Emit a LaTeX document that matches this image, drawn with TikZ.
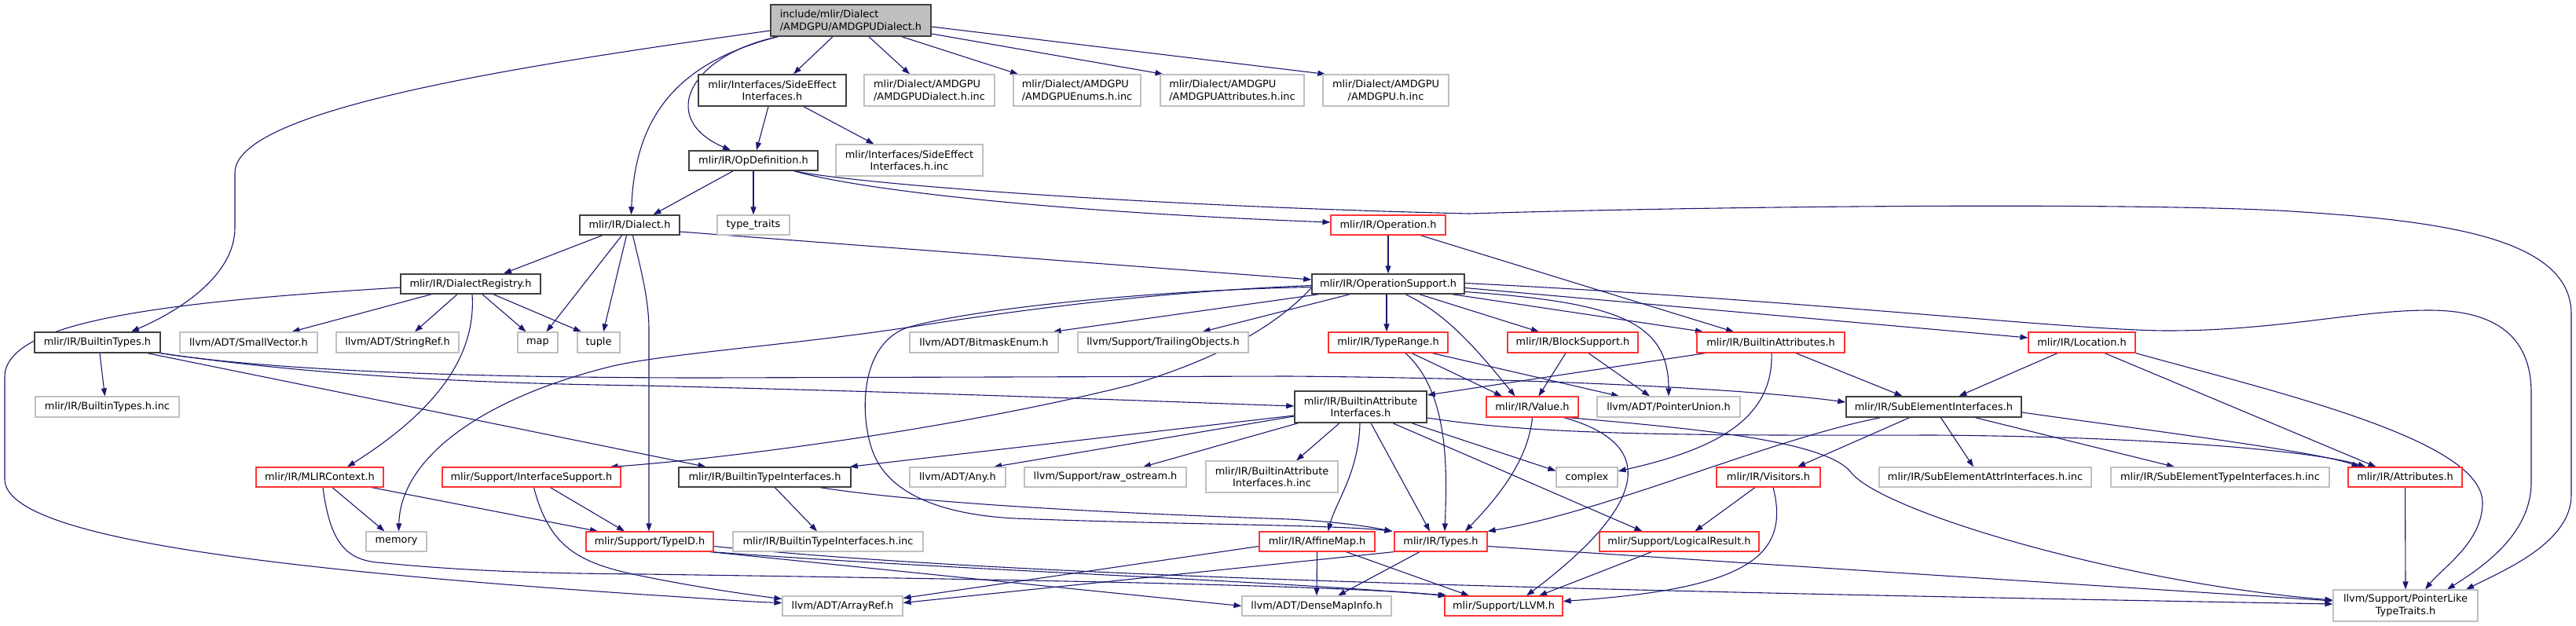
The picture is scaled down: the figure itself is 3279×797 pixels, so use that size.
\documentclass[tikz,border=0pt]{standalone}
\usepackage{fontspec}
\usetikzlibrary{arrows.meta}
\newfontfamily\dvfont{DejaVu Sans}
\newcommand\dfont{\dvfont\fontsize{12.9}{15.5}\selectfont}
\definecolor{edgec}{HTML}{191970}
\definecolor{blkb}{HTML}{404040}
\definecolor{gryb}{HTML}{BFBFBF}
\definecolor{redb}{HTML}{FF3333}
\pgfdeclarelayer{bg}
\pgfsetlayers{bg,main}
\tikzset{
 nb/.style={rectangle, inner sep=0pt, fill=white, font=\dfont, align=center, line width=1.2pt},
 blk/.style={nb, draw=blkb, line width=1.5pt},
 gry/.style={nb, draw=gryb},
 rd/.style={nb, draw=redb},
 rootn/.style={nb, draw=blkb, fill=gryb, line width=1.5pt, align=left},
 ed/.style={draw=edgec, line width=1.1pt, -{Triangle[length=10pt,width=7pt]}},
}
\begin{document}
\begin{tikzpicture}[x=1pt,y=-1pt]
\useasboundingbox (0,0) rectangle (3279,797);
% row 0
\node[rootn, minimum width=204pt, minimum height=40pt] (root) at (1083,26) {include/mlir/Dialect\\/AMDGPU/AMDGPUDialect.h};
% row 1
\node[blk, minimum width=188pt, minimum height=40pt] (sei) at (983,115) {mlir/Interfaces/SideEffect\\Interfaces.h};
\node[gry, align=left, minimum width=166pt, minimum height=40pt] (dinc) at (1183,115) {mlir/Dialect/AMDGPU\\/AMDGPUDialect.h.inc};
\node[gry, align=left, minimum width=162pt, minimum height=40pt] (enuminc) at (1371,115) {mlir/Dialect/AMDGPU\\/AMDGPUEnums.h.inc};
\node[gry, align=left, minimum width=183pt, minimum height=40pt] (attrinc) at (1568.5,115) {mlir/Dialect/AMDGPU\\/AMDGPUAttributes.h.inc};
\node[gry, minimum width=160pt, minimum height=40pt] (amdinc) at (1764,115) {mlir/Dialect/AMDGPU\\/AMDGPU.h.inc};
% row 2
\node[gry, minimum width=187pt, minimum height=40pt] (seiinc) at (1157.5,204) {mlir/Interfaces/SideEffect\\Interfaces.h.inc};
\node[blk, minimum width=164pt, minimum height=25pt] (opdef) at (959,204.5) {mlir/IR/OpDefinition.h};
% row 3
\node[blk, minimum width=127pt, minimum height=25pt] (dialect) at (801.5,286.5) {mlir/IR/Dialect.h};
\node[gry, minimum width=92pt, minimum height=25pt] (tytraits) at (959,286.5) {type\_traits};
\node[rd, minimum width=146pt, minimum height=25pt] (operation) at (1767,286.5) {mlir/IR/Operation.h};
% row 4
\node[blk, minimum width=178pt, minimum height=25pt] (dreg) at (599,361.5) {mlir/IR/DialectRegistry.h};
\node[blk, minimum width=194pt, minimum height=25pt] (opsup) at (1767,361.5) {mlir/IR/OperationSupport.h};
% row 5
\node[blk, minimum width=160pt, minimum height=26pt] (btypes) at (124,436) {mlir/IR/BuiltinTypes.h};
\node[gry, minimum width=175pt, minimum height=26pt] (smallvec) at (316.5,436) {llvm/ADT/SmallVector.h};
\node[gry, minimum width=156pt, minimum height=26pt] (stringref) at (506,436) {llvm/ADT/StringRef.h};
\node[gry, minimum width=51pt, minimum height=26pt] (map) at (684.5,436) {map};
\node[gry, minimum width=54pt, minimum height=26pt] (tuple) at (762,436) {tuple};
\node[gry, minimum width=189pt, minimum height=26pt] (bitmask) at (1252.5,436) {llvm/ADT/BitmaskEnum.h};
\node[gry, minimum width=217pt, minimum height=26pt] (trailing) at (1480.5,436) {llvm/Support/TrailingObjects.h};
\node[rd, minimum width=152pt, minimum height=26pt] (typerange) at (1767,436) {mlir/IR/TypeRange.h};
\node[rd, minimum width=166pt, minimum height=26pt] (blocksup) at (2002,436) {mlir/IR/BlockSupport.h};
\node[rd, minimum width=188pt, minimum height=26pt] (battrs) at (2254,436) {mlir/IR/BuiltinAttributes.h};
\node[rd, minimum width=136pt, minimum height=26pt] (location) at (2650,436) {mlir/IR/Location.h};
% row 6
\node[gry, minimum width=183pt, minimum height=26pt] (btypesinc) at (136.5,518) {mlir/IR/BuiltinTypes.h.inc};
\node[blk, minimum width=168pt, minimum height=40pt] (bai) at (1732,518) {mlir/IR/BuiltinAttribute\\Interfaces.h};
\node[rd, minimum width=117pt, minimum height=26pt] (value) at (1950.5,518) {mlir/IR/Value.h};
\node[gry, minimum width=182pt, minimum height=26pt] (punion) at (2124,518) {llvm/ADT/PointerUnion.h};
\node[blk, minimum width=223pt, minimum height=26pt] (subel) at (2461.5,518) {mlir/IR/SubElementInterfaces.h};
% row 7
\node[rd, minimum width=162pt, minimum height=25pt] (mlirctx) at (407,607.5) {mlir/IR/MLIRContext.h};
\node[rd, minimum width=227pt, minimum height=25pt] (ifsup) at (676.5,607.5) {mlir/Support/InterfaceSupport.h};
\node[blk, minimum width=219pt, minimum height=25pt] (bti) at (973.5,607.5) {mlir/IR/BuiltinTypeInterfaces.h};
\node[gry, minimum width=122pt, minimum height=25pt] (any) at (1219,607.5) {llvm/ADT/Any.h};
\node[gry, minimum width=206pt, minimum height=25pt] (rawos) at (1407,607.5) {llvm/Support/raw\_ostream.h};
\node[gry, minimum width=168pt, minimum height=40pt] (baiinc) at (1619,607) {mlir/IR/BuiltinAttribute\\Interfaces.h.inc};
\node[gry, minimum width=78pt, minimum height=25pt] (complex) at (2020,607.5) {complex};
\node[rd, minimum width=132pt, minimum height=25pt] (visitors) at (2251,607.5) {mlir/IR/Visitors.h};
\node[gry, minimum width=270pt, minimum height=25pt] (seainc) at (2527,607.5) {mlir/IR/SubElementAttrInterfaces.h.inc};
\node[gry, minimum width=278pt, minimum height=25pt] (setinc) at (2826,607.5) {mlir/IR/SubElementTypeInterfaces.h.inc};
\node[rd, minimum width=145pt, minimum height=25pt] (attrs) at (3061.5,607.5) {mlir/IR/Attributes.h};
% row 8
\node[gry, minimum width=77pt, minimum height=25pt] (memory) at (504.5,689.5) {memory};
\node[rd, minimum width=162pt, minimum height=25pt] (typeid) at (827,689.5) {mlir/Support/TypeID.h};
\node[gry, minimum width=242pt, minimum height=25pt] (btiinc) at (1054,689.5) {mlir/IR/BuiltinTypeInterfaces.h.inc};
\node[rd, minimum width=147pt, minimum height=25pt] (affine) at (1676.5,689.5) {mlir/IR/AffineMap.h};
\node[rd, minimum width=118pt, minimum height=25pt] (types) at (1834,689.5) {mlir/IR/Types.h};
\node[rd, minimum width=203pt, minimum height=25pt] (logres) at (2137.5,689.5) {mlir/Support/LogicalResult.h};
% row 9
\node[gry, minimum width=153pt, minimum height=25pt] (arrayref) at (1072.5,771.5) {llvm/ADT/ArrayRef.h};
\node[gry, minimum width=190pt, minimum height=25pt] (densemap) at (1676,771.5) {llvm/ADT/DenseMapInfo.h};
\node[rd, minimum width=150pt, minimum height=25pt] (llvm) at (1914,771.5) {mlir/Support/LLVM.h};
\node[gry, minimum width=184pt, minimum height=40pt] (pltt) at (3062,771) {llvm/Support/PointerLike\\TypeTraits.h};

\begin{pgfonlayer}{bg}
% root
\draw[ed] ([xshift=-23pt]root.south) -- ([xshift=27pt]sei.north);
\draw[ed] ([xshift=23pt]root.south) -- ([xshift=-25pt]dinc.north);
\draw[ed] ([xshift=65pt]root.south) -- ([xshift=-75pt]enuminc.north);
\draw[ed] ([yshift=-17pt]root.east) -- ([xshift=-88pt]attrinc.north);
\draw[ed] ([yshift=-8pt]root.east) -- ([xshift=4pt]amdinc.north west);
\draw[ed] ([xshift=-93pt]root.south) .. controls (880,70) and (835,150) .. ([xshift=-29pt]opdef.north);
\draw[ed] ([xshift=-93pt]root.south) .. controls (860,80) and (808,150) .. ([xshift=2pt]dialect.north);
\draw[ed] ([yshift=-13pt]root.west) .. controls (650,85) and (299,140) .. (299,220) -- (299,290) .. controls (299,350) and (230,395) .. ([xshift=43pt]btypes.north);
% sei
\draw[ed] ([xshift=-5pt]sei.south) -- ([xshift=4pt]opdef.north);
\draw[ed] ([xshift=40pt]sei.south) -- ([xshift=-45pt]seiinc.north);
% opdef
\draw[ed] ([xshift=-26pt]opdef.south) -- ([xshift=30pt]dialect.north);
\draw[ed] (opdef.south) -- (tytraits.north);
\draw[ed] ([xshift=52pt]opdef.south) .. controls (1080,238) and (1300,268) .. ([yshift=3.5pt]operation.west);
\draw[ed] ([xshift=52pt]opdef.south) .. controls (1090,234) and (1450,262) .. (1870,272) .. controls (2200,262) and (2700,258) .. (2900,268) .. controls (3100,280) and (3273,300) .. (3273,400) -- (3273,630) .. controls (3273,690) and (3190,725) .. ([xshift=77pt]pltt.north);
% dialect
\draw[ed] ([xshift=-35pt]dialect.south) -- ([xshift=42pt]dreg.north);
\draw[ed] ([xshift=-10pt]dialect.south) -- ([xshift=11pt]map.north);
\draw[ed] ([xshift=-4pt]dialect.south) -- ([xshift=6pt]tuple.north);
\draw[ed] ([xshift=4pt]dialect.south) .. controls (815,340) and (826,380) .. (826,420) -- ([xshift=-1pt]typeid.north);
\draw[ed] ([yshift=-8.5pt]dialect.east) -- ([yshift=5.5pt]opsup.west);
% dreg
\draw[ed] ([xshift=-50pt]dreg.south) -- ([xshift=55pt]smallvec.north);
\draw[ed] ([xshift=-17pt]dreg.south) -- ([xshift=22pt]stringref.north);
\draw[ed] ([xshift=2pt]dreg.south) .. controls (606,450) and (560,520) .. ([xshift=35pt]mlirctx.north);
\draw[ed] ([xshift=15pt]dreg.south) -- ([xshift=-15pt]map.north);
\draw[ed] ([xshift=29pt]dreg.south) -- ([xshift=-22pt]tuple.north);
\draw[ed] ([yshift=-4.5pt]dreg.west) .. controls (200,385) and (6,410) .. (6,480) -- (6,610) .. controls (6,680) and (300,722) .. (820,757) .. controls (900,762) and (950,766) .. ([yshift=4pt]arrayref.west);
% mlirctx
\draw[ed] ([xshift=16pt]mlirctx.south) -- ([xshift=-15pt]memory.north);
\draw[ed] ([xshift=66pt]mlirctx.south) -- ([xshift=-66pt]typeid.north);
\draw[ed] ([xshift=4pt]mlirctx.south) .. controls (420,690) and (440,712) .. (480,716) .. controls (600,728) and (700,730) .. (820,731) .. controls (1300,738) and (1700,745) .. ([xshift=4pt]llvm.north west);
% ifsup
\draw[ed] ([xshift=24pt]ifsup.south) -- ([xshift=-32pt]typeid.north);
\draw[ed] ([xshift=3pt]ifsup.south) .. controls (700,700) and (740,718) .. (820,734) .. controls (900,750) and (960,758) .. ([yshift=9pt]arrayref.west);
% typeid
\draw[ed] ([xshift=-5pt]typeid.south east) -- (densemap.west);
\draw[ed] ([xshift=-3pt]typeid.south east) .. controls (1200,725) and (1600,738) .. ([xshift=2pt]llvm.north west);
\draw[ed] ([yshift=-6pt]typeid.east) .. controls (1300,735) and (2000,752) .. ([yshift=2pt]pltt.west);
% btypes
\draw[ed] ([xshift=3pt]btypes.south) -- ([xshift=-3pt]btypesinc.north);
\draw[ed] ([xshift=64pt]btypes.south) -- ([xshift=-75pt]bti.north);
\draw[ed] (btypes.south east) .. controls (350,472) and (600,481) .. (900,481) -- (1640,479) .. controls (1900,481) and (2200,492) .. ([yshift=6pt]subel.west);
\draw[ed] (btypes.south east) .. controls (400,478) and (600,488) .. (820,491) .. controls (1200,500) and (1500,512) .. ([yshift=1pt]bai.west);
% bti
\draw[ed] ([xshift=13pt]bti.south) -- ([xshift=-14pt]btiinc.north);
\draw[ed] ([xshift=71pt]bti.south) .. controls (1200,645) and (1500,656) .. (1640,661) .. controls (1700,664) and (1740,670) .. ([xshift=-2pt]types.north west);
% opsup
\draw[ed] ([xshift=-2pt]opsup.south) -- ([xshift=-2pt]typerange.north);
\draw[ed] ([xshift=22pt]opsup.south) .. controls (1842,400) and (1880,445) .. ([xshift=-22pt]value.north);
\draw[ed] ([xshift=40pt]opsup.south) -- ([xshift=-43pt]blocksup.north);
\draw[ed] ([xshift=82pt]opsup.south) -- ([xshift=-86pt]battrs.north);
\draw[ed] ([yshift=-10pt]opsup.east) .. controls (2060,385) and (2124,410) .. (punion.north);
\draw[ed] ([yshift=-5pt]opsup.east) -- ([yshift=6pt]location.west);
\draw[ed] ([yshift=1pt]opsup.east) .. controls (2300,382) and (2640,421) .. (2760,421) .. controls (2900,421) and (3000,395) .. (3092,395) .. controls (3190,395) and (3222,440) .. (3222,500) -- (3222,614) .. controls (3222,680) and (3160,722) .. ([xshift=53pt]pltt.north);
\draw[ed] ([xshift=-49pt]opsup.south) -- ([xshift=50pt]trailing.north);
\draw[ed] ([xshift=9pt]opsup.south west) -- ([xshift=88pt]bitmask.north);
\draw[ed] ([yshift=-5pt]opsup.west) .. controls (1620,420) and (1540,460) .. (1440,490) .. controls (1200,550) and (900,586) .. ([xshift=100pt]ifsup.north);
\draw[ed] ([yshift=-2pt]opsup.west) .. controls (1450,372) and (1250,402) .. (1155,417) .. controls (1000,440) and (850,450) .. (780,466) .. controls (620,505) and (510,580) .. ([xshift=3pt]memory.north);
\draw[ed] ([yshift=-4pt]opsup.west) .. controls (1450,370) and (1230,395) .. (1155,417) .. controls (1090,440) and (1095,540) .. (1113,580) .. controls (1135,630) and (1200,655) .. (1291,660) .. controls (1500,668) and (1700,668) .. ([xshift=-2pt]types.north west);
% operation
\draw[ed] (operation.south) -- (opsup.north);
\draw[ed] ([xshift=41pt]operation.south) -- ([xshift=-47pt]battrs.north);
% typerange
\draw[ed] ([xshift=22pt]typerange.south) .. controls (1845,500) and (1842,600) .. ([xshift=5pt]types.north);
\draw[ed] ([xshift=30pt]typerange.south) -- ([xshift=-38.5pt]value.north);
\draw[ed] ([xshift=56pt]typerange.south) -- ([xshift=-63pt]punion.north);
% blocksup
\draw[ed] ([xshift=-9pt]blocksup.south) -- ([xshift=8pt]value.north);
\draw[ed] ([xshift=20pt]blocksup.south) -- ([xshift=-24pt]punion.north);
% battrs
\draw[ed] ([xshift=-83pt]battrs.south) -- ([yshift=15pt]bai.east);
\draw[ed] ([xshift=1pt]battrs.south) .. controls (2258,540) and (2170,575) .. ([yshift=7.5pt]complex.east);
\draw[ed] ([xshift=32pt]battrs.south) -- ([xshift=-40pt]subel.north);
% location
\draw[ed] ([xshift=-31pt]location.south) -- ([xshift=32pt]subel.north);
\draw[ed] ([xshift=29pt]location.south) -- ([xshift=-37pt]attrs.north);
\draw[ed] (location.south east) .. controls (2900,500) and (3160,560) .. (3160,640) .. controls (3160,690) and (3110,722) .. ([xshift=25pt]pltt.north);
% subel
\draw[ed] ([xshift=-68pt]subel.south) .. controls (2250,560) and (2050,650) .. (types.north east);
\draw[ed] ([xshift=-31pt]subel.south) -- ([xshift=37pt]visitors.north);
\draw[ed] ([xshift=9pt]subel.south) -- ([xshift=-15pt]seainc.north);
\draw[ed] ([xshift=53pt]subel.south) -- ([xshift=-58pt]setinc.north);
\draw[ed] ([yshift=-7pt]subel.east) .. controls (2750,550) and (2950,575) .. ([xshift=-58pt]attrs.north);
% bai
\draw[ed] ([yshift=-11pt]bai.west) -- ([xshift=-2pt]bti.north east);
\draw[ed] ([yshift=-12pt]bai.west) -- ([xshift=46pt]any.north);
\draw[ed] ([xshift=5pt]bai.south west) -- ([xshift=48pt]rawos.north);
\draw[ed] ([xshift=-27pt]bai.south) -- ([xshift=31pt]baiinc.north);
\draw[ed] ([xshift=-1pt]bai.south) .. controls (1730,600) and (1700,640) .. ([xshift=14pt]affine.north);
\draw[ed] ([xshift=13pt]bai.south) -- ([xshift=-14pt]types.north);
\draw[ed] ([xshift=41pt]bai.south) -- ([xshift=-47pt]logres.north);
\draw[ed] ([xshift=65pt]bai.south) -- ([yshift=8pt]complex.west);
\draw[ed] ([yshift=-14pt]bai.east) .. controls (1950,552) and (2100,555) .. (2460,554) .. controls (2750,556) and (2950,575) .. ([xshift=-50pt]attrs.north);
% value
\draw[ed] (value.south) .. controls (1945,590) and (1900,640) .. ([xshift=31pt]types.north);
\draw[ed] ([xshift=40pt]value.south) .. controls (2110,565) and (2100,640) .. ([xshift=29pt]llvm.north);
\draw[ed] ([xshift=45pt]value.south) .. controls (2150,545) and (2320,560) .. (2355,600) .. controls (2390,650) and (2700,742) .. ([yshift=7pt]pltt.west);
% types
\draw[ed] ([xshift=-27pt]types.south) -- ([xshift=27pt]densemap.north);
\draw[ed] (types.south west) -- ([yshift=4pt]arrayref.east);
\draw[ed] ([yshift=-6pt]types.east) -- ([yshift=6pt]pltt.west);
% affine
\draw[ed] (affine.south) -- (densemap.north);
\draw[ed] ([xshift=37pt]affine.south) -- ([xshift=-44pt]llvm.north);
\draw[ed] ([yshift=-6pt]affine.west) -- ([yshift=10pt]arrayref.east);
% logres
\draw[ed] ([xshift=-35pt]logres.south) -- ([xshift=45pt]llvm.north);
% visitors
\draw[ed] ([xshift=-17pt]visitors.south) -- ([xshift=20pt]logres.north);
\draw[ed] ([xshift=6pt]visitors.south) .. controls (2280,710) and (2220,750) .. ([yshift=6pt]llvm.east);
% attrs
\draw[ed] (attrs.south) -- (pltt.north);
\end{pgfonlayer}
\end{tikzpicture}
\end{document}
